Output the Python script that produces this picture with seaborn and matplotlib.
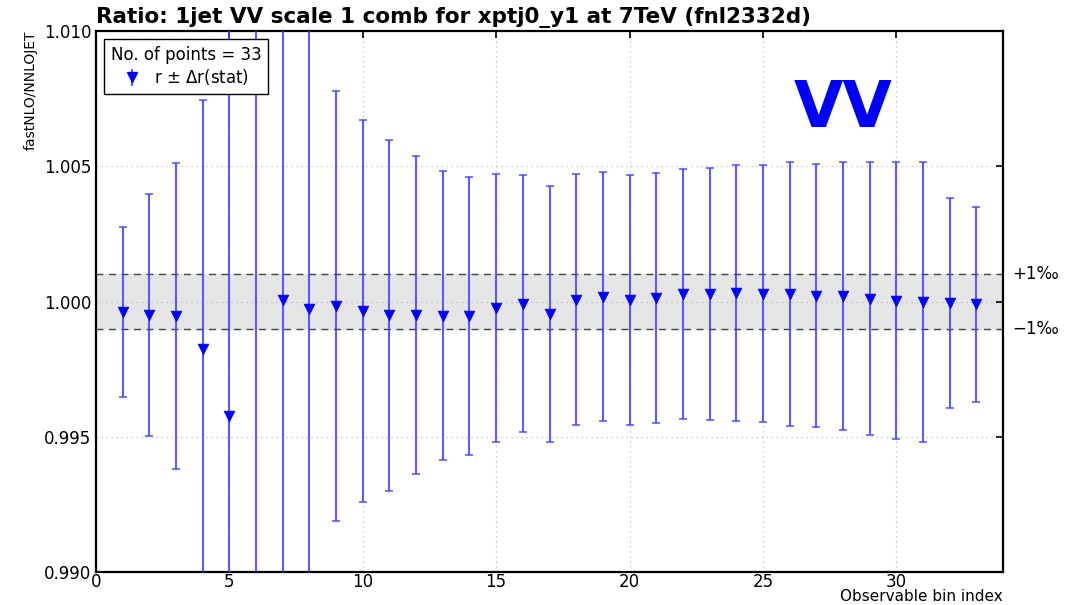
import numpy as np
import pandas as pd
import seaborn as sns
import matplotlib
matplotlib.use("Agg")
import matplotlib.pyplot as plt
import matplotlib.transforms as mtransforms

bins = list(range(1, 34))
ratio = [0.99961, 0.99950, 0.99946, 0.99824, 0.99576, 0.98850, 1.00007, 0.99972,
         0.99983, 0.99965, 0.99949, 0.99951, 0.99947, 0.99946, 0.99977, 0.99992,
         0.99954, 1.00007, 1.00018, 1.00006, 1.00013, 1.00027, 1.00028, 1.00030,
         1.00029, 1.00028, 1.00022, 1.00019, 1.00011, 1.00003, 0.99997, 0.99993,
         0.99989]
stat_err = [0.00315, 0.00447, 0.00567, 0.00920, 0.01600, 0.02500, 0.01300, 0.01200,
            0.00796, 0.00705, 0.00649, 0.00588, 0.00534, 0.00514, 0.00495, 0.00474,
            0.00472, 0.00464, 0.00461, 0.00463, 0.00462, 0.00462, 0.00467, 0.00473,
            0.00476, 0.00487, 0.00485, 0.00495, 0.00503, 0.00511, 0.00517, 0.00388,
            0.00359]
band = 0.001
yticks = [0.990, 0.995, 1.000, 1.005, 1.010]
xticks = [0, 5, 10, 15, 20, 25, 30]

df = pd.DataFrame({"bin": bins, "ratio": ratio, "err": stat_err})

sns.set_style("white")
plt.rcParams['font.family'] = ['DejaVu Sans']
plt.rcParams['text.color'] = 'black'
plt.rcParams['axes.labelcolor'] = 'black'

fig = plt.figure(figsize=(10.67, 6.05), dpi=100)
ax = fig.add_axes([0.09, 0.0545, 0.850, 0.8943])

ax.axhspan(1 - band, 1 + band, color="#e5e5e5", zorder=0)
ax.axhline(1 + band, color="#444444", ls=(0, (5, 4)), lw=1.0, zorder=1)
ax.axhline(1 - band, color="#444444", ls=(0, (5, 4)), lw=1.0, zorder=1)

ax.errorbar(df["bin"], df["ratio"], yerr=df["err"], fmt="none",
            ecolor=(0.25, 0.25, 1.0, 0.85), elinewidth=1.5, capsize=3,
            capthick=1.2, zorder=3)
sns.scatterplot(data=df, x="bin", y="ratio", marker="v", s=60, color="blue",
                edgecolor="blue", linewidth=0.5, ax=ax, zorder=4, legend=False)

ax.set_xlim(0, 34)
ax.set_ylim(0.990, 1.010)
ax.set_xticks(xticks)
ax.set_yticks(yticks)
ax.set_yticklabels([f"{v:.3f}" for v in yticks])
ax.grid(True, color="#bbbbbb", ls=(0, (1, 3)), lw=0.9)
ax.tick_params(direction="in", length=5, width=1.2, top=True, right=True,
               labelsize=12, colors="black")
ax.tick_params(axis="x", pad=0.5)
for sp in ax.spines.values():
    sp.set_visible(True)
    sp.set_color("black")
    sp.set_linewidth(1.6)

ax.set_xlabel("Observable bin index", loc="right", fontsize=11, labelpad=-1.5)
ax.set_ylabel("fastNLO/NNLOJET", loc="top", fontsize=10, labelpad=4)
ax.set_title("Ratio: 1jet VV scale 1 comb for xptj0_y1 at 7TeV (fnl2332d)",
             loc="left", fontsize=15.5, fontweight="bold", pad=6, color="black")

trans = mtransforms.blended_transform_factory(ax.transAxes, ax.transData)
ax.text(1.01, 1 + band, "+1‰", transform=trans, fontsize=12, va="center", ha="left")
ax.text(1.01, 1 - band, "−1‰", transform=trans, fontsize=12, va="center", ha="left")

ax.text(0.8236, 0.855, "VV", transform=ax.transAxes, fontsize=46,
        fontweight="bold", color="blue", ha="center", va="center")

proxy = ax.errorbar([], [], yerr=[], fmt="v", color="blue", markersize=7,
                    ecolor=(0.25, 0.25, 1.0, 0.85), elinewidth=1.5, capsize=3)
leg = ax.legend([proxy], ["r $\\pm$ $\\Delta$r(stat)"], title="No. of points = 33",
                loc="upper left", fontsize=12, title_fontsize=12, frameon=True,
                fancybox=False, edgecolor="black", framealpha=1,
                borderaxespad=0.5, borderpad=0.4, labelspacing=0.2,
                handlelength=1.0, handletextpad=0.8)
leg.get_frame().set_linewidth(1.0)

fig.savefig("out.png", dpi=100)
